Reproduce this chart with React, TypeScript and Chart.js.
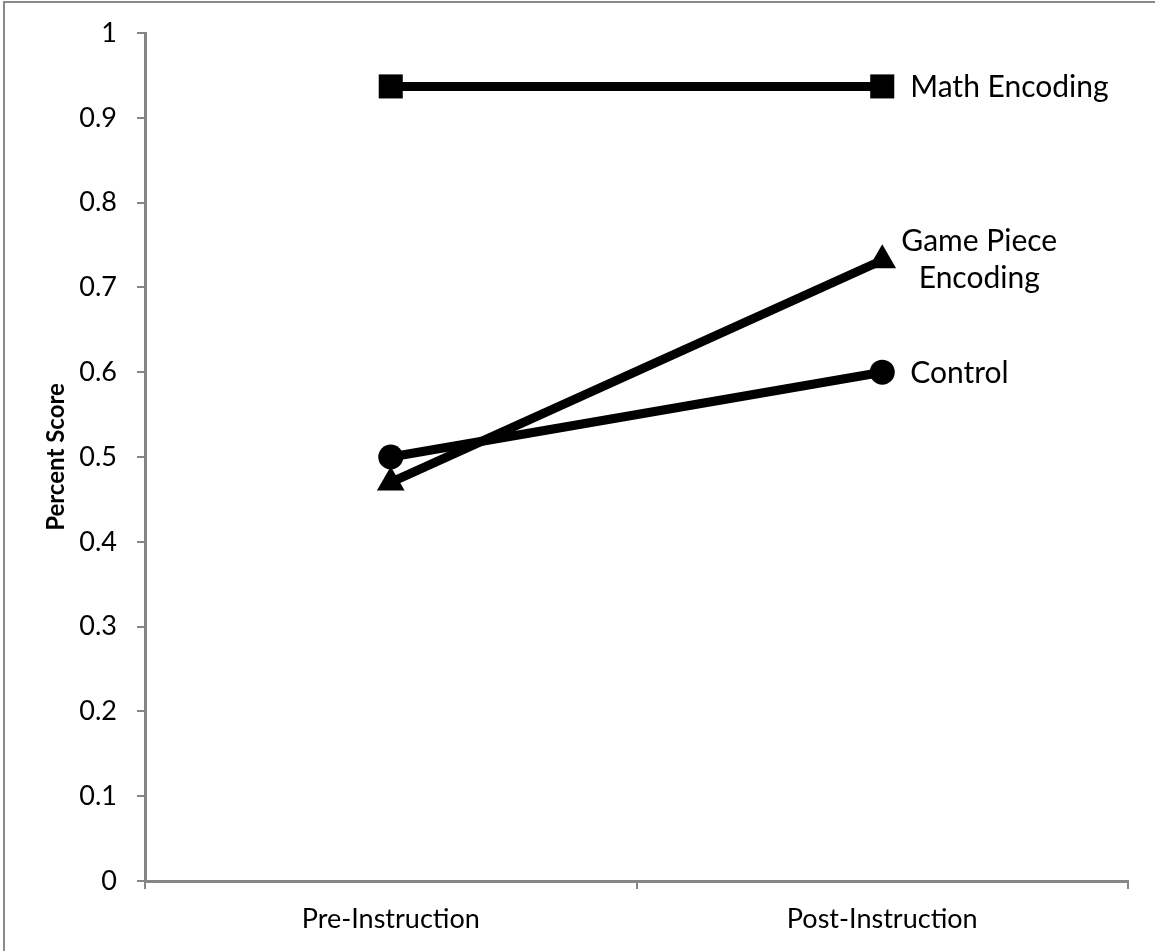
import React, { useEffect, useRef } from "react";
import { Chart, registerables } from "chart.js";

Chart.register(...registerables);

const categories = ["Pre-Instruction", "Post-Instruction"];
const mathEncoding = [0.937, 0.937];
const gamePieceEncoding = [0.47, 0.732];
const control = [0.5, 0.6];
const seriesLabels = ["Math Encoding", "Game Piece\nEncoding", "Control"];
const yTitle = "Percent Score";

const FONT = "Lato, 'Open Sans', sans-serif";
const AXIS_GRAY = "#868686";

export default function App() {
  const ref = useRef<HTMLCanvasElement | null>(null);

  useEffect(() => {
    document.body.style.margin = "0";
    const canvas = ref.current!;
    const endLabels = {
      id: "endLabels",
      afterDatasetsDraw(chart: any) {
        const ctx = chart.ctx;
        ctx.save();
        ctx.fillStyle = "#000";
        ctx.font = `30px ${FONT}`;
        ctx.textBaseline = "middle";
        chart.data.datasets.forEach((ds: any, i: number) => {
          const meta = chart.getDatasetMeta(i);
          const pt = meta.data[meta.data.length - 1];
          const lines = String(ds.endLabel).split("\n");
          if (lines.length === 1) {
            ctx.textAlign = "left";
            ctx.fillText(lines[0], pt.x + 28, pt.y + 1);
          } else {
            ctx.textAlign = "center";
            const cx = pt.x + 97;
            const lh = 37;
            const y0 = pt.y - ((lines.length - 1) * lh) / 2;
            lines.forEach((l, k) => ctx.fillText(l, cx, y0 + k * lh));
          }
        });
        // y axis title
        ctx.save();
        ctx.translate(56, 457);
        ctx.rotate(-Math.PI / 2);
        ctx.textAlign = "center";
        ctx.font = `bold 24px ${FONT}`;
        ctx.fillText(yTitle, 0, 0);
        ctx.restore();
        // outer frame
        ctx.strokeStyle = "#8a8a8a";
        ctx.lineWidth = 2;
        ctx.strokeRect(4, 2, 1170, 970);
        ctx.restore();
      },
    };

    const chart = new Chart(canvas, {
      type: "line",
      data: {
        labels: categories,
        datasets: [
          {
            label: "Math Encoding",
            endLabel: seriesLabels[0],
            data: mathEncoding,
            borderColor: "#000",
            backgroundColor: "#000",
            borderWidth: 9,
            pointStyle: "rect",
            pointRadius: 17,
            pointBorderWidth: 0,
          } as any,
          {
            label: "Game Piece Encoding",
            endLabel: seriesLabels[1],
            data: gamePieceEncoding,
            borderColor: "#000",
            backgroundColor: "#000",
            borderWidth: 9,
            pointStyle: "triangle",
            pointRadius: 16,
            pointBorderWidth: 0,
          } as any,
          {
            label: "Control",
            endLabel: seriesLabels[2],
            data: control,
            borderColor: "#000",
            backgroundColor: "#000",
            borderWidth: 9,
            pointStyle: "circle",
            pointRadius: 12.5,
            pointBorderWidth: 0,
          } as any,
        ],
      },
      options: {
        animation: false,
        responsive: false,
        devicePixelRatio: 1,
        layout: { padding: { top: 33, right: 27, left: 0, bottom: 0 } },
        plugins: { legend: { display: false }, tooltip: { enabled: false } },
        scales: {
          x: {
            type: "category",
            offset: true,
            grid: {
              offset: true,
              drawOnChartArea: false,
              drawTicks: true,
              tickLength: 8,
              color: AXIS_GRAY,
              lineWidth: 2,
            },
            border: { display: true, color: AXIS_GRAY, width: 3 },
            ticks: {
              color: "#000",
              font: { family: FONT, size: 27 },
              padding: 14,
              maxRotation: 0,
            },
            afterFit: (s: any) => {
              s.height = 70;
              s.paddingLeft = 0;
              s.paddingRight = 0;
            },
          },
          y: {
            min: 0,
            max: 1,
            ticks: {
              stepSize: 0.1,
              color: "#000",
              font: { family: FONT, size: 27 },
              padding: 20,
              callback: (v: any) => String(Math.round(Number(v) * 10) / 10),
            },
            grid: {
              drawOnChartArea: false,
              drawTicks: true,
              tickLength: 8,
              color: AXIS_GRAY,
              lineWidth: 2,
            },
            border: { display: true, color: AXIS_GRAY, width: 3 },
            afterFit: (s: any) => {
              s.width = 145;
              s.paddingTop = 0;
              s.paddingBottom = 0;
            },
          },
        },
      },
      plugins: [endLabels],
    });
    return () => chart.destroy();
  }, []);

  return (
    <div style={{ position: "fixed", left: 0, top: 0, width: 1155, height: 951, background: "#fff" }}>
      <canvas ref={ref} width={1155} height={951} style={{ width: 1155, height: 951, display: "block" }} />
    </div>
  );
}
